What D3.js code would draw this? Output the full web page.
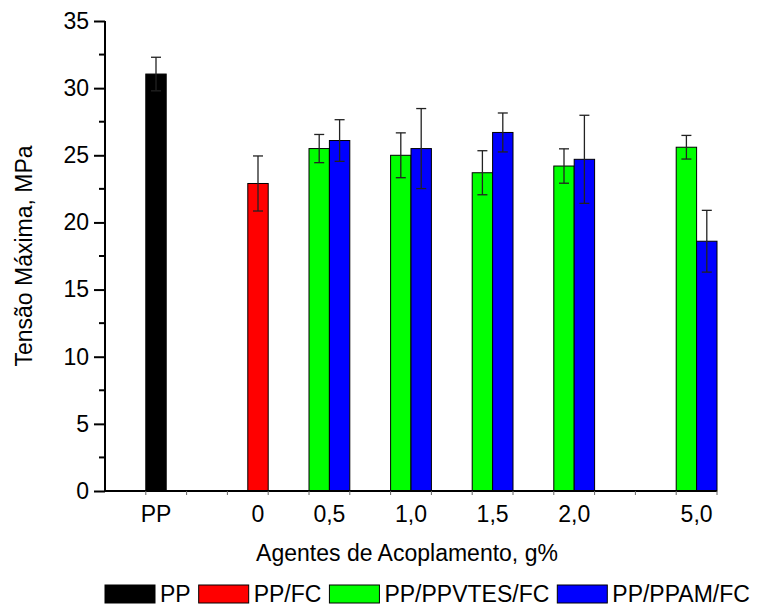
<!DOCTYPE html>
<html>
<head>
<meta charset="utf-8">
<script src="https://cdn.jsdelivr.net/npm/d3@7"></script>
<style>
  body { margin: 0; background: #fff; }
  text { font-family: "Liberation Sans", Arial, sans-serif; fill: #000; }
</style>
</head>
<body>
<script>
const width = 757;
const height = 608;

// data
const categories = ["PP", "0", "0,5", "1,0", "1,5", "2,0", "5,0"];
const groupPos = [1.25, 3.75, 5.5, 7.5, 9.5, 11.5, 14.5]; // position on the x axis (slot units)
const seriesNames = ["PP", "PP/FC", "PP/PPVTES/FC", "PP/PPAM/FC"];
const seriesColors = ["#000000", "#ff0000", "#00ff00", "#0000ff"];
const ppValues = [31.05, null, null, null, null, null, null];
const ppErr = [1.25, null, null, null, null, null, null];
const fcValues = [null, 22.9, null, null, null, null, null];
const fcErr = [null, 2.05, null, null, null, null, null];
const vtesValues = [null, null, 25.5, 25.0, 23.7, 24.2, 25.6];
const vtesErr = [null, null, 1.05, 1.67, 1.64, 1.28, 0.88];
const ppamValues = [null, null, 26.1, 25.5, 26.7, 24.7, 18.6];
const ppamErr = [null, null, 1.55, 2.98, 1.45, 3.28, 2.3];
const yTicks = [0, 5, 10, 15, 20, 25, 30, 35];

const values = [ppValues, fcValues, vtesValues, ppamValues];
const errors = [ppErr, fcErr, vtesErr, ppamErr];
const fontSize = 23;

const svg = d3
  .select("body")
  .append("svg")
  .attr("width", width)
  .attr("height", height);

const x = d3.scaleLinear().domain([0, 15]).range([105, 717]);
const y = d3.scaleLinear().domain([0, 35]).range([491, 21]);
const barW = 0.5;

// build bar list
const bars = [];
categories.forEach((c, gi) => {
  const present = values.map((v, si) => si).filter(si => values[si][gi] != null);
  present.forEach((si, k) => {
    const center = groupPos[gi] + (k - (present.length - 1) / 2) * barW;
    bars.push({ gi, si, center, value: values[si][gi], err: errors[si][gi] });
  });
});

svg
  .selectAll("rect.bar")
  .data(bars)
  .join("rect")
  .attr("class", "bar")
  .attr("x", d => x(d.center - barW / 2))
  .attr("width", d => x(barW) - x(0))
  .attr("y", d => y(d.value))
  .attr("height", d => y(0) - y(d.value))
  .attr("fill", d => seriesColors[d.si])
  .attr("stroke", "#000")
  .attr("stroke-width", 1);

// error bars
const eb = svg.append("g").attr("stroke", "#222").attr("stroke-width", 1.3);
bars.forEach(d => {
  const cx = x(d.center);
  eb.append("line")
    .attr("x1", cx).attr("x2", cx)
    .attr("y1", y(d.value + d.err)).attr("y2", y(d.value - d.err));
  [d.value + d.err, d.value - d.err].forEach(v => {
    eb.append("line")
      .attr("x1", cx - 5).attr("x2", cx + 5)
      .attr("y1", y(v)).attr("y2", y(v));
  });
});

// y axis
const yAxis = svg
  .append("g")
  .attr("transform", `translate(${x(0)},0)`)
  .call(d3.axisLeft(y).tickValues(yTicks).tickSize(11).tickPadding(5));
yAxis.select(".domain").attr("stroke-width", 2).attr("d", `M0,${y(0)}V${y(35)}`);
yAxis.selectAll(".tick line").attr("stroke-width", 2);
yAxis.selectAll(".tick text").attr("font-size", fontSize).style("font-family", "Liberation Sans, Arial");
svg
  .append("g")
  .attr("transform", `translate(${x(0)},0)`)
  .selectAll("line")
  .data(d3.range(2.5, 35, 5))
  .join("line")
  .attr("x1", -6)
  .attr("x2", 0)
  .attr("y1", d => y(d))
  .attr("y2", d => y(d))
  .attr("stroke", "#000")
  .attr("stroke-width", 2);

// x axis
svg
  .append("line")
  .attr("x1", x(0) - 1)
  .attr("x2", x(15))
  .attr("y1", y(0))
  .attr("y2", y(0))
  .attr("stroke", "#000")
  .attr("stroke-width", 2);
svg
  .append("g")
  .selectAll("line")
  .data(d3.range(1, 16))
  .join("line")
  .attr("x1", d => x(d))
  .attr("x2", d => x(d))
  .attr("y1", y(0))
  .attr("y2", y(0) + 4)
  .attr("stroke", "#666")
  .attr("stroke-width", 1);

svg
  .append("g")
  .selectAll("text")
  .data(categories)
  .join("text")
  .attr("x", (d, i) => x(groupPos[i]))
  .attr("y", 522)
  .attr("text-anchor", "middle")
  .attr("font-size", fontSize)
  .text(d => d);

// axis titles
svg
  .append("text")
  .attr("x", 407)
  .attr("y", 561)
  .attr("text-anchor", "middle")
  .attr("font-size", fontSize)
  .text("Agentes de Acoplamento, g%");

svg
  .append("text")
  .attr("transform", `translate(32,${(y(0) + y(35)) / 2}) rotate(-90)`)
  .attr("text-anchor", "middle")
  .attr("font-size", fontSize)
  .text("Tensão Máxima, MPa");

// legend
const legend = svg.append("g").attr("transform", "translate(105,585)");
let lx = 0;
seriesNames.forEach((name, i) => {
  legend
    .append("rect")
    .attr("x", lx)
    .attr("y", 0)
    .attr("width", 50)
    .attr("height", 18)
    .attr("fill", seriesColors[i])
    .attr("stroke", "#000");
  const t = legend
    .append("text")
    .attr("x", lx + 55)
    .attr("y", 17)
    .attr("font-size", fontSize)
    .text(name);
  lx += 55 + t.node().getComputedTextLength() + 8;
});
</script>
</body>
</html>
